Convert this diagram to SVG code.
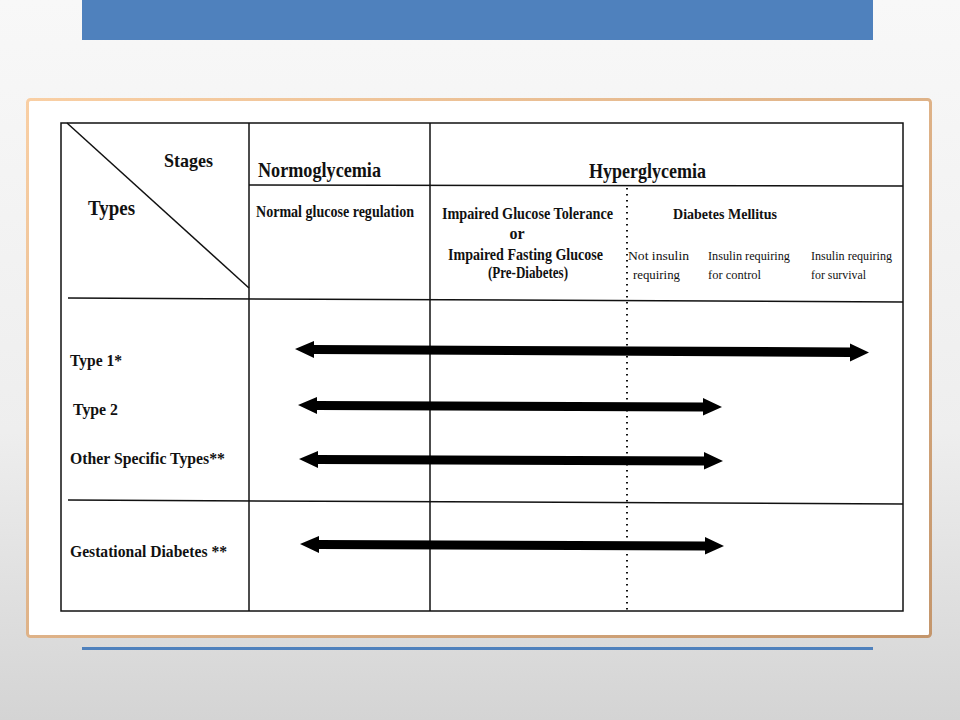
<svg xmlns="http://www.w3.org/2000/svg" width="960" height="720" viewBox="0 0 960 720">
<defs>
<linearGradient id="bg" x1="0" y1="0" x2="0" y2="1">
<stop offset="0" stop-color="#f8f8f8"/>
<stop offset="0.6" stop-color="#eeeeee"/>
<stop offset="1" stop-color="#d4d4d4"/>
</linearGradient>
<linearGradient id="brd" x1="0" y1="0" x2="1" y2="1">
<stop offset="0" stop-color="#f9cfa4"/>
<stop offset="1" stop-color="#c4966c"/>
</linearGradient>
<style>
.b{font-family:"Liberation Serif","Times New Roman",serif;font-weight:bold;fill:#111}
.r{font-family:"Liberation Serif","Times New Roman",serif;fill:#111}
.ln{stroke:#111;stroke-width:1.5;fill:none}
.arr{fill:#000}
</style>
</defs>
<rect x="0" y="0" width="960" height="720" fill="url(#bg)"/>
<rect x="82" y="0" width="791" height="40" fill="#4f81bd"/>
<rect x="82" y="647" width="791" height="3" fill="#4f81bd"/>
<g id="card">
<rect x="27.5" y="99.5" width="903" height="537" rx="3" fill="#fff" stroke="url(#brd)" stroke-width="3"/>
</g>
<g id="table">
<rect x="61" y="123" width="842" height="488" class="ln"/>
<line x1="249" y1="123" x2="249" y2="611" class="ln"/>
<line x1="430" y1="123" x2="430" y2="611" class="ln"/>
<line x1="249" y1="185" x2="903" y2="186" class="ln"/>
<line x1="68" y1="298" x2="903" y2="302" class="ln"/>
<line x1="68" y1="500" x2="903" y2="504" class="ln"/>
<line x1="67" y1="123" x2="249" y2="288" class="ln"/>
<line x1="627" y1="188" x2="627" y2="610" stroke="#111" stroke-width="2" stroke-dasharray="1.5 4.5"/>
</g>
<g id="headers">
<text class="b" x="164" y="167" font-size="19" textLength="49" lengthAdjust="spacingAndGlyphs">Stages</text>
<text class="b" x="88" y="215" font-size="20" textLength="47" lengthAdjust="spacingAndGlyphs">Types</text>
<text class="b" x="258" y="177" font-size="21" textLength="123" lengthAdjust="spacingAndGlyphs">Normoglycemia</text>
<text class="b" x="256" y="217" font-size="16" textLength="158" lengthAdjust="spacingAndGlyphs">Normal glucose regulation</text>
<text class="b" x="589" y="178" font-size="21" textLength="117" lengthAdjust="spacingAndGlyphs">Hyperglycemia</text>
<text class="b" x="442" y="219" font-size="16" textLength="171" lengthAdjust="spacingAndGlyphs">Impaired Glucose Tolerance</text>
<text class="b" x="517" y="239" font-size="16" text-anchor="middle">or</text>
<text class="b" x="448" y="260" font-size="16" textLength="155" lengthAdjust="spacingAndGlyphs">Impaired Fasting Glucose</text>
<text class="b" x="488" y="278" font-size="16" textLength="80" lengthAdjust="spacingAndGlyphs">(Pre-Diabetes)</text>
<text class="b" x="673" y="219" font-size="15" textLength="104" lengthAdjust="spacingAndGlyphs">Diabetes Mellitus</text>
<text class="r" x="628" y="260" font-size="13" textLength="61" lengthAdjust="spacingAndGlyphs">Not insulin</text>
<text class="r" x="633" y="279" font-size="13" textLength="47" lengthAdjust="spacingAndGlyphs">requiring</text>
<text class="r" x="708" y="260" font-size="13" textLength="82" lengthAdjust="spacingAndGlyphs">Insulin requiring</text>
<text class="r" x="708" y="279" font-size="13" textLength="53" lengthAdjust="spacingAndGlyphs">for control</text>
<text class="r" x="811" y="260" font-size="13" textLength="81" lengthAdjust="spacingAndGlyphs">Insulin requiring</text>
<text class="r" x="811" y="279" font-size="13" textLength="55" lengthAdjust="spacingAndGlyphs">for survival</text>
</g>
<g id="type1"><text class="b" x="70" y="366" font-size="17" textLength="52" lengthAdjust="spacingAndGlyphs">Type 1*</text></g>
<g id="type2"><text class="b" x="73" y="415" font-size="17" textLength="45" lengthAdjust="spacingAndGlyphs">Type 2</text></g>
<g id="other"><text class="b" x="70" y="464" font-size="17" textLength="155" lengthAdjust="spacingAndGlyphs">Other Specific Types**</text></g>
<g id="gestational"><text class="b" x="70" y="557" font-size="17" textLength="157" lengthAdjust="spacingAndGlyphs">Gestational Diabetes **</text></g>
<g id="connectors">
<path class="arr" d="M295,349 L314,341 L314,345 L850,347.5 L850,343.5 L869,352.5 L850,361.5 L850,357 L314,354 L314,358 Z"/>
<path class="arr" d="M298,405 L317,397 L317,401 L703,402.5 L703,398 L722,407 L703,415.5 L703,411.5 L317,410 L317,414 Z"/>
<path class="arr" d="M299,459 L318,451 L318,455 L704,456.5 L704,452 L723,461 L704,469.5 L704,465.5 L318,464 L318,468 Z"/>
<path class="arr" d="M300,544 L319,536 L319,540 L705,541.5 L705,537 L724,546 L705,554.5 L705,550.5 L319,549 L319,553 Z"/>
</g>
</svg>
